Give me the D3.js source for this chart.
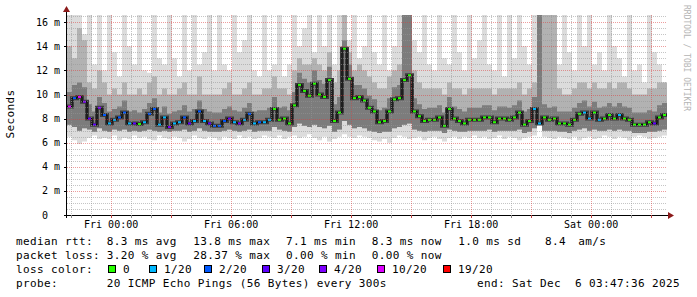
<!DOCTYPE html>
<html>
<head>
<meta charset="utf-8">
<script src="https://cdn.jsdelivr.net/npm/d3@7"></script>
<style>
  body { margin: 0; background: #fff; }
  text { font-family: "DejaVu Sans Mono", monospace; fill: #000; }
</style>
</head>
<body>
<div class="smoke"></div>
<script>
// data

var endTime = new Date(Date.UTC(2025, 11, 6, 3, 47, 36));
var startTime = new Date(+endTime - 30 * 3600e3);
var slotMs = 15 * 60e3;

// median rtt per 15 min slot (ms)
var med = [9.0,9.7,9.8,9.4,8.0,7.5,8.9,8.3,7.6,7.9,
  8.1,8.5,7.6,7.6,7.55,7.7,8.4,8.8,7.5,8.1,
  7.3,7.6,7.7,8.1,7.6,7.8,8.6,7.8,7.6,7.4,
  7.4,7.8,8.0,7.7,7.6,7.9,8.4,7.6,7.7,7.7,
  7.9,8.8,7.9,8.0,7.6,9.1,10.8,10.3,9.9,10.9,
  10.0,9.8,11.2,7.8,8.5,13.8,11.3,9.7,9.8,9.5,
  8.9,8.6,7.7,7.8,8.6,9.6,9.7,11.2,11.6,8.6,
  8.2,7.8,7.9,7.9,8.1,7.4,8.8,8.0,7.8,7.6,
  7.9,7.9,7.9,8.1,8.1,7.7,8.0,8.0,7.9,8.1,
  8.5,7.5,7.8,8.8,7.6,8.1,7.9,8.0,7.6,7.6,
  7.5,7.9,8.4,8.5,8.0,8.5,7.9,8.0,8.3,8.0,
  8.3,8.0,7.9,7.5,7.5,7.5,7.7,7.6,8.1,8.3];

// loss class per slot (index into lossKeys)
var loss = [5,2,5,4,3,3,4,2,1,1,
  2,2,1,3,0,1,2,2,1,1,
  4,1,1,2,3,1,2,1,3,2,
  2,2,3,1,4,1,2,1,2,1,
  1,0,0,0,0,0,0,0,0,0,
  0,0,0,0,0,0,0,0,0,0,
  0,0,0,0,0,0,0,0,0,0,
  0,0,0,0,0,0,0,0,0,0,
  0,0,0,0,0,0,0,0,0,0,
  0,0,0,1,1,0,0,0,0,0,
  0,0,0,1,1,0,1,0,0,0,
  1,0,0,0,0,0,0,3,0,0];

// smoke: lowest ping, lower dense edge, dark top, medium top, highest ping (ms)
var lo = [6.5,6.2,5.9,6.1,6.4,6.6,6.3,6.4,6.3,6.6,
  6.2,6.4,6.3,6.6,6.4,6.5,6.3,6.2,6.6,6.4,
  6.3,6.5,6.4,6.1,6.3,6.6,6.4,6.3,6.5,6.4,
  6.2,6.5,6.4,6.3,6.6,6.4,6.5,6.3,6.4,6.6,
  6.5,6.4,6.6,6.3,6.5,6.6,6.4,6.5,6.7,6.4,
  6.2,6.5,6.1,6.3,6.5,6.7,6.5,6.4,6.6,6.5,
  6.4,6.2,6.1,6.3,6.0,6.4,6.6,6.5,6.3,6.4,
  6.5,6.2,6.4,6.5,6.3,6.1,6.4,6.5,6.3,6.5,
  6.4,6.6,6.4,6.5,6.3,6.4,6.6,6.3,6.5,6.4,
  6.2,6.4,6.5,6.6,7.5,6.5,6.4,6.3,6.5,6.4,
  6.3,6.5,6.2,6.4,6.5,6.3,6.4,6.6,6.5,6.3,
  6.5,6.4,6.2,6.5,6.6,6.5,6.3,6.4,6.5,6.6];

var bot = [7.5,7.3,7.0,7.2,7.1,6.9,7.2,7.0,6.9,7.1,
  7.0,7.1,6.9,7.0,6.9,7.0,7.1,7.0,6.9,7.0,
  6.9,7.0,7.0,7.1,6.9,7.0,7.2,7.0,6.9,6.9,
  6.9,7.0,7.1,7.0,6.9,7.0,7.1,6.9,7.0,7.0,
  7.0,7.3,7.1,7.0,6.9,7.3,7.6,7.4,7.3,7.5,
  7.3,7.2,7.4,6.9,7.1,7.8,7.5,7.2,7.3,7.2,
  7.0,6.9,6.8,6.9,6.9,7.2,7.3,7.5,7.6,7.1,
  7.0,6.9,7.0,7.0,7.0,6.8,7.1,7.0,6.9,6.9,
  7.0,7.0,7.0,7.0,7.1,6.9,7.0,7.0,7.0,7.0,
  7.1,6.8,6.9,7.2,7.6,7.0,7.0,7.0,6.9,6.9,
  6.8,7.0,7.1,7.2,7.0,7.1,7.0,7.0,7.1,7.0,
  7.1,7.0,7.0,6.8,6.8,6.8,6.9,6.9,7.0,7.1];

var dk = [10.2,10.8,11,10.6,9.2,8.6,9.8,9.3,8.6,8.8,
  9.0,9.5,8.6,8.7,8.5,8.8,9.3,9.7,8.5,9.0,
  8.4,8.6,8.7,9.1,8.6,8.8,9.5,8.8,8.6,8.5,
  8.5,8.8,9.0,8.7,8.6,8.9,9.3,8.6,8.7,8.7,
  8.9,9.8,8.9,9.0,8.7,10.2,11.8,11.3,11,12,
  11.2,10.9,12.3,9.2,9.8,14.5,12.5,10.8,10.8,10.5,
  9.9,9.6,8.7,8.9,9.7,10.6,10.8,16.6,16.6,9.7,
  9.2,8.8,8.9,8.9,9.1,8.5,9.8,9.0,8.8,8.6,
  8.9,8.9,8.9,9.1,9.1,8.7,9.0,9.0,8.9,9.1,
  9.5,8.6,8.8,9.8,16.6,9.2,8.9,9.0,8.6,8.6,
  8.6,8.9,9.3,9.5,9.0,9.4,8.9,9.0,9.3,9.0,
  9.3,9.0,8.9,8.5,8.5,8.5,8.7,8.6,9.1,9.3];

var up = [14,13,15.5,14.5,11,10.5,12,11,10,10.5,
  10,11,10,10,10.5,10,11,11.5,10,10.5,
  10,10,10.5,11,10,10,11.5,10,10,10,
  10,10.5,11,10,10,10.5,11,10,10,10.5,
  10.5,11.5,10.5,10.5,10,12,13,12.5,12.5,13,
  12.5,12,13.5,11,12,16.6,13.5,12,12.5,12,
  11.5,11,10.5,10.5,11.5,12,12.5,16.6,16.6,12,
  11,10.5,10.5,10.5,10.5,10,11,10.5,10.5,10,
  10.5,10.5,10.5,10.5,10.5,10,10.5,10.5,10.5,10.5,
  11,10,10.5,11,16.6,16.6,16.6,16.6,10.5,10,
  10,10.5,11,11,10.5,11,10.5,10.5,11,10.5,
  11,11,10.5,10,10,10,10.5,10.5,11,11];

var hi = [16.6,16.6,16.6,15,16.6,12.5,16.6,12,16.6,13.5,
  11.5,16.6,14,12.5,16.6,12,11.8,16.6,13,12.5,
  16.6,13,11.5,16.6,12,16.6,12.5,13.5,16.6,12,
  16.6,12.5,12,16.6,13.5,14.5,16.6,12,11.5,16.6,
  12,12.5,16.6,11.5,12.5,16.6,14,15.5,16.6,13.5,
  16.6,14,16.6,12.5,16.6,16.6,14.5,16.6,13,14,
  16.6,13.5,12.5,16.6,12,14,16.6,16.6,16.6,14.5,
  13.5,16.6,12.5,12,16.6,13,12.5,16.6,13.5,12,
  16.6,13,14.5,16.6,12.5,12,16.6,11.5,16.6,13,
  16.6,14,12.5,16.6,16.6,16.6,16.6,16.6,12.5,16.6,
  13.5,12,16.6,14,16.6,12.5,13.5,12,16.6,14,
  13,11.5,16.6,12,12.5,11,16.6,13.5,12.5,11];

var lossKeys = ["0", "1/20", "2/20", "3/20", "4/20", "10/20", "19/20"];
var lossColors = ["#26ff00", "#00b8ff", "#0059ff", "#5e00ff", "#7e00ff", "#dd00ff", "#ff0000"];

var yTicks = [0, 2, 4, 6, 8, 10, 12, 14, 16];

var rttStats = ["8.3 ms avg", "13.8 ms max", "7.1 ms min", "8.3 ms now", "1.0 ms sd", "8.4", "am/s"];
var lossStats = ["3.20 % avg", "28.37 % max", "0.00 % min", "0.00 % now"];
var probeText = "20 ICMP Echo Pings (56 Bytes) every 300s";
var endText = "end: Sat Dec  6 03:47:36 2025";

// layout

var W = 697, H = 297;
var X0 = 67, X1 = 667, Y0 = 15, Y1 = 215;

var svg = d3.select(".smoke").append("svg")
    .attr("width", W)
    .attr("height", H);

var x = d3.scaleUtc()
    .domain([startTime, endTime])
    .range([X0, X1]);

var y = d3.scaleLinear()
    .domain([0, 16.6])
    .range([Y1, Y0]);

var slots = med.map((m, i) => ({
  t: new Date(+startTime + i * slotMs),
  med: m, loss: loss[i], lo: lo[i], bot: bot[i], dk: dk[i], up: up[i], hi: hi[i]
}));
var stepData = slots.concat([Object.assign({}, slots[slots.length - 1], {t: endTime})]);

svg.append("clipPath").attr("id", "plot")
  .append("rect")
    .attr("x", X0).attr("y", Y0)
    .attr("width", X1 - X0).attr("height", Y1 - Y0);

var g = svg.append("g").attr("clip-path", "url(#plot)");

// smoke

function band(lower, upper) {
  return d3.area()
    .curve(d3.curveStepAfter)
    .x(d => x(d.t))
    .y0(d => y(d[lower]))
    .y1(d => y(d[upper]));
}

g.append("path").datum(stepData).attr("d", band("lo", "hi")).attr("fill", "#dcdcdc");
g.append("path").datum(stepData).attr("d", band("bot", "up")).attr("fill", "#b2b2b2");
g.append("path").datum(stepData).attr("d", band("bot", "dk")).attr("fill", "#7c7c7c");

// median

var medLine = d3.line()
    .curve(d3.curveStepAfter)
    .x(d => x(d.t))
    .y(d => y(d.med));

g.append("path").datum(stepData)
    .attr("d", medLine)
    .attr("fill", "none")
    .attr("stroke", "#3c3c3c")
    .attr("stroke-width", 4);

g.append("path").datum(stepData)
    .attr("d", medLine)
    .attr("fill", "none")
    .attr("stroke", "#000")
    .attr("stroke-width", 1);

g.selectAll(".med")
  .data(slots)
  .enter().append("rect")
    .attr("class", "med")
    .attr("x", d => x(d.t) + 1)
    .attr("y", d => y(d.med) - 1)
    .attr("width", 3)
    .attr("height", 2)
    .attr("fill", d => lossColors[d.loss]);

// grid

var grid = svg.append("g");

var hMinor = d3.range(0.5, 16.6, 0.5).filter(v => v % 2 != 0);
grid.selectAll(".hmin").data(hMinor).enter().append("line")
    .attr("x1", X0).attr("x2", X1)
    .attr("y1", d => Math.round(y(d)) + 0.5).attr("y2", d => Math.round(y(d)) + 0.5)
    .attr("stroke", "rgba(150,150,150,0.55)")
    .attr("stroke-dasharray", "1,1");

var hours = x.ticks(d3.utcHour.every(1));
grid.selectAll(".vmin").data(hours.filter(d => d.getUTCHours() % 3 != 0)).enter().append("line")
    .attr("y1", Y0).attr("y2", Y1)
    .attr("x1", d => Math.round(x(d)) + 0.5).attr("x2", d => Math.round(x(d)) + 0.5)
    .attr("stroke", "rgba(150,150,150,0.55)")
    .attr("stroke-dasharray", "1,1");

grid.selectAll(".hmaj").data(yTicks.slice(1)).enter().append("line")
    .attr("x1", X0).attr("x2", X1)
    .attr("y1", d => Math.round(y(d)) + 0.5).attr("y2", d => Math.round(y(d)) + 0.5)
    .attr("stroke", "rgba(220,60,60,0.5)")
    .attr("stroke-dasharray", "1,1");

grid.selectAll(".vmaj").data(hours.filter(d => d.getUTCHours() % 3 == 0)).enter().append("line")
    .attr("y1", Y0).attr("y2", Y1)
    .attr("x1", d => Math.round(x(d)) + 0.5).attr("x2", d => Math.round(x(d)) + 0.5)
    .attr("stroke", "rgba(220,60,60,0.5)")
    .attr("stroke-dasharray", "1,1");

// axis

svg.append("line")
    .attr("x1", X0 - 3).attr("x2", X1 + 2)
    .attr("y1", Y1 + 0.5).attr("y2", Y1 + 0.5)
    .attr("stroke", "#000");
svg.append("line")
    .attr("x1", X0 - 0.5).attr("x2", X0 - 0.5)
    .attr("y1", Y1 + 3).attr("y2", Y0 - 3)
    .attr("stroke", "#000");

svg.append("path")
    .attr("d", `M${X1 + 1},${Y1 - 3}L${X1 + 7},${Y1 + 0.5}L${X1 + 1},${Y1 + 4}Z`)
    .attr("fill", "#8b1a1a");
svg.append("path")
    .attr("d", `M${X0 - 4},${Y0 - 3}L${X0 - 0.5},${Y0 - 9}L${X0 + 3},${Y0 - 3}Z`)
    .attr("fill", "#8b1a1a");

svg.selectAll(".ytick").data(yTicks).enter().append("line")
    .attr("x1", X0 - 3).attr("x2", X0)
    .attr("y1", d => Math.round(y(d)) + 0.5).attr("y2", d => Math.round(y(d)) + 0.5)
    .attr("stroke", "#000");

svg.selectAll(".xtick").data(hours).enter().append("line")
    .attr("x1", d => Math.round(x(d)) + 0.5).attr("x2", d => Math.round(x(d)) + 0.5)
    .attr("y1", Y1).attr("y2", Y1 + 3)
    .attr("stroke", d => d.getUTCHours() % 3 == 0 ? "#c04040" : "#888");

svg.selectAll(".ylab").data(yTicks).enter().append("text")
    .attr("x", d => d == 0 ? 48 : 60)
    .attr("y", d => y(d) + 3.5)
    .attr("text-anchor", "end")
    .style("font-size", "10px")
    .text(d => d == 0 ? "0" : d + " m");

var fmt = d3.utcFormat("%a %H:%M");
svg.selectAll(".xlab").data(hours.filter(d => d.getUTCHours() % 6 == 0)).enter().append("text")
    .attr("x", d => x(d))
    .attr("y", 228)
    .attr("text-anchor", "middle")
    .style("font-size", "10px")
    .text(d => fmt(d));

svg.append("text")
    .attr("transform", "translate(14,114) rotate(-90)")
    .attr("text-anchor", "middle")
    .style("font-size", "11px")
    .style("letter-spacing", "0.4px")
    .text("Seconds");

svg.append("text")
    .attr("transform", "translate(684,5) rotate(90)")
    .style("font-size", "8px")
    .style("fill", "#b4b4b4")
    .text("RRDTOOL / TOBI OETIKER");

// legend

var leg = svg.append("g")
    .style("font-size", "11px")
    .style("letter-spacing", "0.38px");

function put(tx, px, py) {
  leg.append("text").attr("x", px).attr("y", py).attr("xml:space", "preserve").text(tx);
}

put("median rtt:", 16, 245);
[106.7, 193.3, 286, 371.7, 458.3, 545, 578.3].forEach((px, i) => put(rttStats[i], px, 245));

put("packet loss:", 16, 259);
[106.7, 193.3, 286, 371.7].forEach((px, i) => put(lossStats[i], px, 259));

put("loss color:", 16, 273);
[108, 149, 204, 261.7, 319, 377, 442.7].forEach((px, i) => {
  leg.append("rect")
      .attr("x", Math.round(px) + 0.5).attr("y", 265.5)
      .attr("width", 7).attr("height", 7)
      .attr("fill", lossColors[i])
      .attr("stroke", "#000");
  put(lossKeys[i], Math.round(px) + 15, 273);
});

put("probe:", 16, 287);
put(probeText, 106.7, 287);
leg.append("text").attr("x", 680).attr("y", 287)
    .attr("text-anchor", "end")
    .attr("xml:space", "preserve")
    .text(endText);
</script>
</body>
</html>
